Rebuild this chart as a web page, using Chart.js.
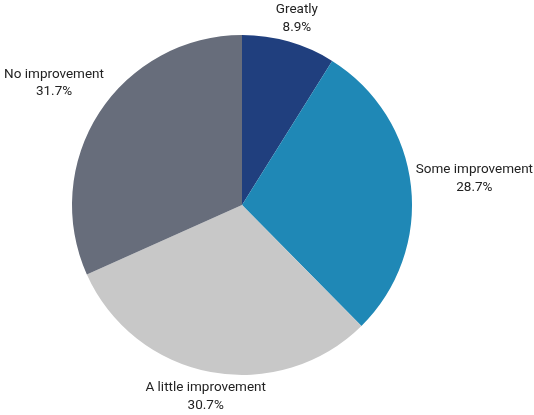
<!DOCTYPE html>
<html>
<head>
<meta charset="utf-8">
<script src="https://cdn.jsdelivr.net/npm/chart.js@4/dist/chart.umd.min.js"></script>
<style>
  html, body { margin: 0; padding: 0; background: #fff; }
  #wrap { width: 534px; height: 415px; }
</style>
</head>
<body>
<div id="wrap"><canvas id="chart"></canvas></div>
<script>
const categories = ['Greatly', 'Some improvement', 'A little improvement', 'No improvement'];
const shares = [8.9, 28.7, 30.7, 31.7];
const colors = ['#203f7e', '#1f88b6', '#c8c8c8', '#676d7b'];

// labels outside each slice: name on top, percent below
const outsideLabels = {
    id: 'outsideLabels',
    afterDatasetsDraw(chart) {
        const ctx = chart.ctx;
        const arcs = chart.getDatasetMeta(0).data;
        ctx.save();
        ctx.font = '13.5px Roboto';
        ctx.fillStyle = '#222';
        ctx.textAlign = 'center';
        ctx.textBaseline = 'middle';
        const lh = 17.5;
        arcs.forEach((arc, i) => {
            const mid = (arc.startAngle + arc.endAngle) / 2;
            const ux = Math.cos(mid), uy = Math.sin(mid);
            const px = arc.x + ux * arc.outerRadius;
            const py = arc.y + uy * arc.outerRadius;
            const lines = [categories[i], shares[i].toFixed(1) + '%'];
            const w = Math.max(...lines.map(l => ctx.measureText(l).width));
            const h = lh * 2;
            const dx = Math.abs(ux) > 1e-6 ? (w / 2) / Math.abs(ux) : Infinity;
            const dy = Math.abs(uy) > 1e-6 ? (h / 2) / Math.abs(uy) : Infinity;
            const d = Math.min(dx, dy) + 8 + 36 * Math.abs(ux * uy) * Math.abs(ux);
            let cx = px + ux * d, cy = py + uy * d;
            // keep the text block inside the canvas
            cx = Math.min(Math.max(cx, w / 2 + 1), chart.width - w / 2 - 1);
            cy = Math.min(Math.max(cy, h / 2 + 1), chart.height - h / 2 - 1);
            ctx.fillText(lines[0], cx, cy - lh / 2);
            ctx.fillText(lines[1], cx, cy + lh / 2);
        });
        ctx.restore();
    }
};

new Chart(document.getElementById('chart'), {
    type: 'pie',
    data: {
        labels: categories,
        datasets: [{
            data: shares,
            backgroundColor: colors,
            borderWidth: 0
        }]
    },
    options: {
        responsive: true,
        maintainAspectRatio: false,
        animation: false,
        layout: { padding: { top: 35, bottom: 40, left: 72, right: 122 } },
        plugins: {
            legend: { display: false },
            tooltip: { enabled: false }
        }
    },
    plugins: [outsideLabels]
});
</script>
</body>
</html>
